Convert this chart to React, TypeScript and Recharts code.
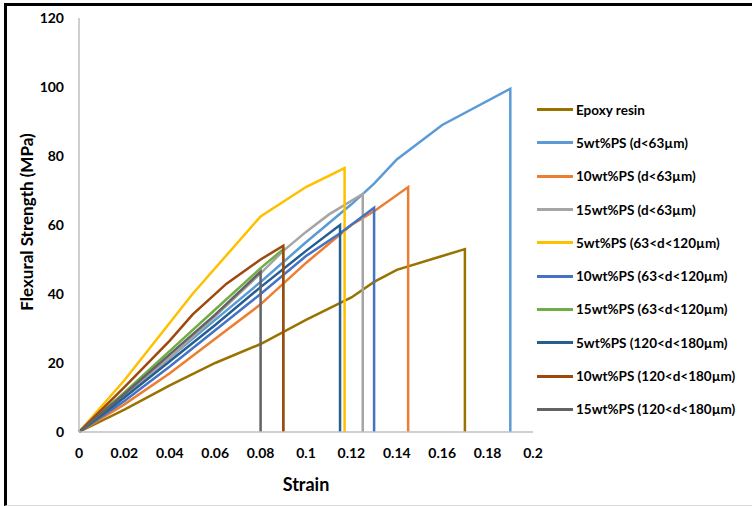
import { LineChart, Line, XAxis, YAxis } from 'recharts'

// [strain, stress MPa], each ends with the drop to zero
const epoxyResin = [[0, 0], [0.02, 6.5], [0.04, 13.5], [0.06, 20], [0.08, 25.5], [0.1, 32.5], [0.12, 39], [0.13, 43.5], [0.14, 47], [0.16, 51], [0.17, 53], [0.17, 0]]
const ps5Fine = [[0, 0], [0.02, 11], [0.04, 21.5], [0.06, 32.5], [0.08, 43.5], [0.1, 55], [0.12, 66], [0.13, 72], [0.14, 79], [0.16, 89], [0.19, 99.5], [0.19, 0]]
const ps10Fine = [[0, 0], [0.02, 8], [0.04, 17], [0.06, 27], [0.08, 37], [0.1, 49], [0.12, 60], [0.13, 64], [0.145, 71], [0.145, 0]]
const ps15Fine = [[0, 0], [0.02, 10.5], [0.04, 21.5], [0.06, 33.5], [0.08, 46], [0.09, 52.5], [0.1, 58], [0.11, 63], [0.125, 69], [0.125, 0]]
const ps5Mid = [[0, 0], [0.02, 15], [0.05, 40], [0.08, 62.5], [0.1, 71], [0.117, 76.5], [0.117, 0]]
const ps10Mid = [[0, 0], [0.02, 9], [0.04, 19], [0.06, 29.5], [0.08, 40], [0.1, 51], [0.115, 57.6], [0.13, 65], [0.13, 0]]
const ps15Mid = [[0, 0], [0.02, 11.5], [0.04, 23.5], [0.06, 35.5], [0.08, 47.5], [0.09, 53], [0.09, 0]]
const ps5Coarse = [[0, 0], [0.02, 10], [0.04, 20.5], [0.06, 31], [0.08, 42], [0.1, 52.5], [0.115, 60], [0.115, 0]]
const ps10Coarse = [[0, 0], [0.02, 13], [0.04, 26.5], [0.05, 34], [0.065, 43], [0.08, 50], [0.09, 54], [0.09, 0]]
const ps15Coarse = [[0, 0], [0.02, 11], [0.04, 22.5], [0.06, 34], [0.08, 46.5], [0.08, 0]]

const seriesNames = [
  'Epoxy resin',
  '5wt%PS (d<63µm)',
  '10wt%PS (d<63µm)',
  '15wt%PS (d<63µm)',
  '5wt%PS (63<d<120µm)',
  '10wt%PS (63<d<120µm)',
  '15wt%PS (63<d<120µm)',
  '5wt%PS (120<d<180µm)',
  '10wt%PS (120<d<180µm)',
  '15wt%PS (120<d<180µm)',
]
const seriesData = [epoxyResin, ps5Fine, ps10Fine, ps15Fine, ps5Mid, ps10Mid, ps15Mid, ps5Coarse, ps10Coarse, ps15Coarse]

const strainTicks = [0, 0.02, 0.04, 0.06, 0.08, 0.1, 0.12, 0.14, 0.16, 0.18, 0.2]
const stressTicks = [0, 20, 40, 60, 80, 100, 120]

const COLORS = ['#997300', '#5B9BD5', '#ED7D31', '#A5A5A5', '#FFC000', '#4472C4', '#70AD47', '#255E91', '#9E480E', '#636363']

const FONT = 'Lato, "Open Sans", sans-serif'

const series = seriesNames.map((name, i) => ({
  name,
  color: COLORS[i],
  data: seriesData[i].map(([x, y]) => ({ x, y })),
}))

export default function App() {
  return (
    <div
      style={{
        position: 'fixed',
        left: 0,
        top: 0,
        width: 752,
        height: 506,
        background: '#fff',
        fontFamily: FONT,
        overflow: 'hidden',
      }}
    >
      <div
        style={{
          position: 'absolute',
          left: 4,
          top: 3,
          right: -10,
          bottom: 0,
          borderLeft: '3px solid #000',
          borderTop: '3px solid #000',
          borderBottom: '1px solid #d9d9d9',
          boxSizing: 'border-box',
        }}
      />
      <LineChart
        width={752}
        height={506}
        margin={{ top: 18, right: 219, left: 19, bottom: 44 }}
        style={{ position: 'absolute', left: 0, top: 0 }}
      >
        <XAxis
          dataKey="x"
          type="number"
          domain={[0, 0.2]}
          ticks={strainTicks}
          interval={0}
          allowDuplicatedCategory={false}
          tickLine={false}
          axisLine={{ stroke: '#BFBFBF', strokeWidth: 1.5 }}
          tickMargin={10}
          height={30}
          tick={{ fill: '#000', fontSize: 14, fontWeight: 700, fontFamily: FONT }}
        />
        <YAxis
          dataKey="y"
          type="number"
          domain={[0, 120]}
          ticks={stressTicks}
          interval={0}
          tickLine={false}
          axisLine={{ stroke: '#BFBFBF', strokeWidth: 1.5 }}
          tickMargin={9}
          width={60}
          tick={{ fill: '#000', fontSize: 14, fontWeight: 700, fontFamily: FONT }}
        />
        {series.map((s) => (
          <Line
            key={s.name}
            data={s.data}
            dataKey="y"
            name={s.name}
            type="linear"
            stroke={s.color}
            strokeWidth={2.5}
            dot={false}
            activeDot={false}
            isAnimationActive={false}
          />
        ))}
      </LineChart>

      {/* legend */}
      <div
        style={{
          position: 'absolute',
          left: 537,
          top: 93,
          fontWeight: 700,
          fontSize: 13.5,
          color: '#000',
        }}
      >
        {series.map((s) => (
          <div key={s.name} style={{ display: 'flex', alignItems: 'center', height: 33.3 }}>
            <span style={{ display: 'inline-block', width: 36, height: 3, background: s.color, marginRight: 3 }} />
            <span style={{ whiteSpace: 'nowrap' }}>{s.name}</span>
          </div>
        ))}
      </div>

      <div
        style={{
          position: 'absolute',
          left: 306,
          top: 484,
          transform: 'translate(-50%, -50%)',
          fontSize: 18,
          fontWeight: 700,
          color: '#000',
          whiteSpace: 'nowrap',
        }}
      >
        Strain
      </div>
      <div
        style={{
          position: 'absolute',
          left: 26,
          top: 222,
          transform: 'translate(-50%, -50%) rotate(-90deg)',
          fontSize: 17,
          fontWeight: 700,
          color: '#000',
          whiteSpace: 'nowrap',
        }}
      >
        Flexural Strength (MPa)
      </div>
    </div>
  )
}
